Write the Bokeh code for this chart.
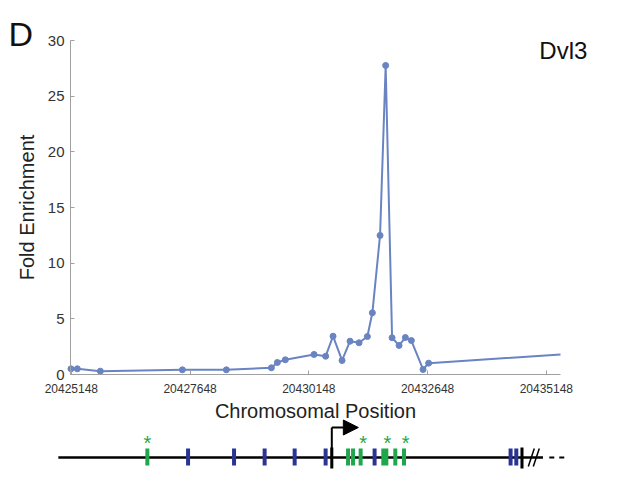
from bokeh.plotting import figure
from bokeh.models import (Range1d, FixedTicker, BasicTickFormatter, Label, Arrow, NormalHead)
from bokeh.embed import file_html
from bokeh.resources import INLINE
from bokeh.core.properties import value

# ---- ChIP fold enrichment data ----
position = [20425140, 20425274, 20425758, 20427485, 20428411, 20429359, 20429485, 20429653,
            20430257, 20430502, 20430657, 20430847, 20431015, 20431205, 20431380, 20431485,
            20431647, 20431765, 20431900, 20432047, 20432180, 20432306, 20432552, 20432670,
            20435446]
fold = [0.51, 0.51, 0.30, 0.42, 0.42, 0.60, 1.08, 1.32,
        1.80, 1.64, 3.44, 1.26, 2.99, 2.85, 3.41, 5.54,
        12.49, 27.76, 3.30, 2.61, 3.32, 3.05, 0.45, 1.02,
        1.80]
x_ticks = [20425148, 20427648, 20430148, 20432648, 20435148]
y_ticks = [0, 5, 10, 15, 20, 25, 30]

# ---- gene structure (genomic coordinates) ----
gene_line = [20424874, 20435077]
break_marks = [20434831, 20434936]
dash_starts = [20435210, 20435420]
dash_ends = [20435315, 20435525]
green_start = [20426706, 20430931, 20431036, 20431196, 20431673, 20431926, 20432109]
green_end = [20426790, 20431015, 20431120, 20431280, 20431821, 20432010, 20432193]
blue_start = [20427563, 20428531, 20429175, 20429807, 20430459, 20431490, 20434353, 20434473]
blue_end = [20427647, 20428615, 20429259, 20429891, 20430543, 20431574, 20434437, 20434557]
black_start = [20430599, 20434603]
black_end = [20430663, 20434667]
tss = 20430631
tss_arrow_tip = 20431190
star_pos = [20426748, 20431289, 20431801, 20432187]

LINE = "#6a84c2"
GREEN = "#1fa74b"
BLUE = "#2b3494"
FONT = "Liberation Sans"

W, H = 627, 486
X0, X1 = 20425130, 20435446          # extent of the x axis
UX = 21.0526                          # genome units per pixel
UY = 30 / 334.0                       # fold units per pixel

p = figure(width=W, height=H, output_backend="svg", toolbar_location=None,
           x_range=Range1d(X0 - 70 * UX, X0 + (W - 70) * UX),
           y_range=Range1d(-(H - 374) * UY, 30 + 40 * UY),
           min_border_left=0, min_border_right=0, min_border_top=0, min_border_bottom=0)
p.extra_y_ranges = {"track": Range1d(457 - H, 457)}
p.outline_line_color = None
p.grid.grid_line_color = None
p.background_fill_color = "white"
p.border_fill_color = "white"

p.line(position, fold, line_color=LINE, line_width=2)
p.scatter(position[:-1], fold[:-1], size=6, fill_color=LINE, line_color=LINE)

for ax in (p.xaxis[0], p.yaxis[0]):
    ax.axis_line_color = "#a0a0a0"
    ax.major_tick_line_color = "#a0a0a0"
    ax.major_tick_in = 4
    ax.major_tick_out = 0
    ax.minor_tick_line_color = None
    ax.major_label_text_color = "#333333"
    ax.major_label_text_font = FONT
    ax.axis_label_text_font = FONT
    ax.axis_label_text_font_style = "normal"
    ax.axis_label_text_font_size = "20px"
    ax.axis_label_text_color = "#222222"

p.xaxis.fixed_location = 0
p.xaxis.bounds = (X0, X1)
p.xaxis.ticker = FixedTicker(ticks=x_ticks)
p.xaxis.formatter = BasicTickFormatter(use_scientific=False)
p.xaxis.major_label_text_font_size = "12px"
p.xaxis.major_label_standoff = 9
p.xaxis.axis_label = "Chromosomal Position"
p.xaxis.axis_label_standoff = 4

p.yaxis.fixed_location = X0
p.yaxis.bounds = (0, 30)
p.yaxis.ticker = FixedTicker(ticks=y_ticks)
p.yaxis.major_label_text_font_size = "15px"
p.yaxis.major_label_standoff = 6
p.yaxis.axis_label = "Fold Enrichment"
p.yaxis.axis_label_standoff = 7

p.add_layout(Label(x=20435000, y=30.3, text="Dvl3", text_font=FONT, text_font_size="24px",
                   text_baseline="top", text_align="left", text_color="#111111"))
p.add_layout(Label(x=X0 - 62 * UX, y=(374 - 33) * UY, text="D", text_font=FONT,
                   text_font_size="34px", text_baseline="alphabetic", text_align="left",
                   text_color="#111111"))

# ---- gene diagram (track coordinates) ----
T = "track"
p.segment(x0=[gene_line[0]], y0=[0], x1=[gene_line[1]], y1=[0], line_color="black",
          line_width=2.5, y_range_name=T)
p.segment(x0=[b - 3 * UX for b in break_marks], y0=[-9] * 2, x1=[b + 3 * UX for b in break_marks],
          y1=[9] * 2, line_color="black", line_width=1.5, y_range_name=T)
p.segment(x0=dash_starts, y0=[0] * 2, x1=dash_ends, y1=[0] * 2, line_color="black",
          line_width=2, y_range_name=T)
p.quad(left=green_start, right=green_end, bottom=-8, top=9, fill_color=GREEN, line_color=None,
       y_range_name=T)
p.quad(left=blue_start, right=blue_end, bottom=-8, top=9, fill_color=BLUE, line_color=None,
       y_range_name=T)
p.quad(left=black_start, right=black_end, bottom=-11, top=10, fill_color="black", line_color=None,
       y_range_name=T)
p.segment(x0=[tss], y0=[0], x1=[tss], y1=[30], line_color="black", line_width=2, y_range_name=T)
p.add_layout(Arrow(end=NormalHead(size=15, fill_color="black", line_color="black"),
                   x_start=tss, y_start=30, x_end=tss_arrow_tip, y_end=30,
                   line_color="black", line_width=2, y_range_name=T))
p.text(x=star_pos, y=[15] * len(star_pos), text=["*"] * len(star_pos), text_color=GREEN,
       text_font=value(FONT), text_font_size="20px", text_align="center", text_baseline="middle",
       y_range_name=T)

open("out.html", "w").write(file_html(p, INLINE))
